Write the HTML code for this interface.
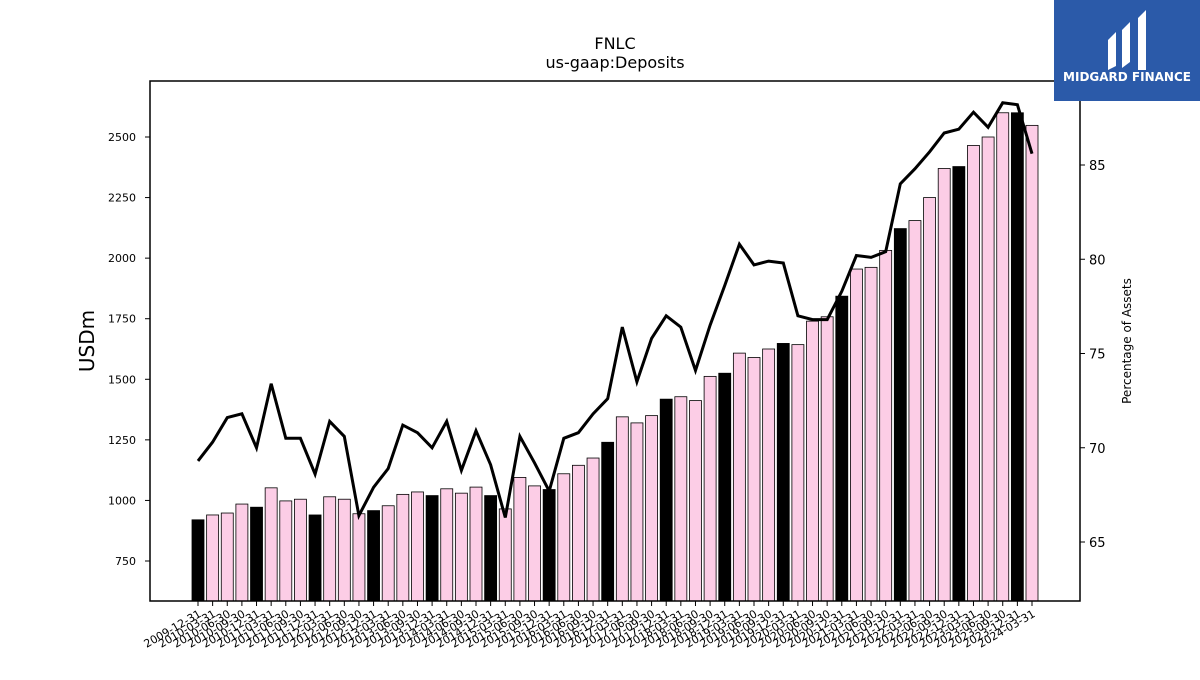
<!DOCTYPE html>
<html><head><meta charset="utf-8"><style>
body{margin:0;background:#fff;}
svg text{font-family:"DejaVu Sans","Liberation Sans",sans-serif;}
</style></head><body>
<svg id="chart" width="1200" height="675" xmlns="http://www.w3.org/2000/svg">
<rect width="1200" height="675" fill="#fff"/>
<text x="615" y="49" font-size="16" text-anchor="middle">FNLC</text>
<text x="615" y="68" font-size="16" text-anchor="middle">us-gaap:Deposits</text>
<g id="bars"></g><g id="xticks"></g><g id="yticks"></g><g id="rticks"></g>
<path id="line" fill="none" stroke="#000" stroke-width="3"/>
<rect x="150" y="81" width="930" height="520" fill="none" stroke="#000" stroke-width="1.5"/>
<text transform="translate(94,341) rotate(-90)" font-size="20" text-anchor="middle">USDm</text>
<text transform="translate(1131,341) rotate(-90)" font-size="12" text-anchor="middle">Percentage of Assets</text>
<g>
<rect x="1054" y="0" width="146" height="101" fill="#2b5aa9"/>
<path d="M1108 40 L1116 32 L1116 66 L1108 70 Z M1122 30 L1130 22 L1130 62 L1122 68 Z M1138 18 L1146 10 L1146 70 L1138 70 Z" fill="#fff"/>
<text x="1127" y="81" font-size="12" font-weight="bold" fill="#fff" text-anchor="middle">MIDGARD FINANCE</text>
</g>
</svg>
<script>
const dates=[];
(function(){const q=["03-31","06-30","09-30","12-31"];dates.push("2009-12-31");for(let y=2010;y<=2023;y++)for(const s of q)dates.push(y+"-"+s);dates.push("2024-03-31");})();
const deposits=[920,940,948,985,972,1052,998,1005,940,1015,1005,945,958,978,1025,1035,1020,1048,1030,1055,1020,965,1095,1060,1045,1110,1145,1175,1240,1345,1320,1350,1418,1428,1412,1512,1525,1608,1590,1625,1648,1643,1740,1758,1843,1955,1962,2032,2122,2155,2250,2370,2378,2465,2500,2600,2600,2548];
const pctAssets=[69.3,70.3,71.6,71.8,70.0,73.4,70.5,70.5,68.6,71.4,70.6,66.4,67.9,68.9,71.2,70.8,70.0,71.4,68.8,70.9,69.1,66.3,70.6,69.2,67.7,70.5,70.8,71.8,72.6,76.4,73.5,75.8,77.0,76.4,74.1,76.5,78.6,80.8,79.7,79.9,79.8,77.0,76.8,76.8,78.3,80.2,80.1,80.4,84.0,84.8,85.7,86.7,86.9,87.8,87.0,88.3,88.2,85.6];
const leftTicks=[750,1000,1250,1500,1750,2000,2250,2500];
const rightTicks=[65,70,75,80,85];
const NS="http://www.w3.org/2000/svg";
const yL=v=>561-(v-750)*(424/1750);
const yR=v=>542-(v-65)*(377/20);
const xB=i=>198+i*(834/57);
function mk(t,a,p){const e=document.createElementNS(NS,t);for(const k in a)e.setAttribute(k,a[k]);if(p)p.appendChild(e);return e;}
const bars=document.getElementById('bars'),xt=document.getElementById('xticks'),yt=document.getElementById('yticks'),rt=document.getElementById('rticks');
deposits.forEach((v,i)=>{
 const q4=dates[i].endsWith("12-31");
 const r=mk('rect',{x:xB(i)-6,y:yL(v),width:12,height:601-yL(v),fill:q4?'#000':'#fccde6',stroke:'#000','stroke-width':0.8},bars);
 
 
 mk('line',{x1:xB(i),x2:xB(i),y1:601,y2:606,stroke:'#000'},xt);
 const t=mk('text',{'font-size':11,'text-anchor':'end',transform:`translate(${xB(i)+4},616) rotate(-30)`},xt);
 t.textContent=dates[i];
 
 
});
leftTicks.forEach(v=>{
 mk('line',{x1:145,x2:150,y1:yL(v),y2:yL(v),stroke:'#000'},yt);
 const t=mk('text',{x:136,y:yL(v)+4,'font-size':11,'text-anchor':'end'},yt);
 t.textContent=v;
 
 
});
rightTicks.forEach(v=>{
 mk('line',{x1:1080,x2:1085,y1:yR(v),y2:yR(v),stroke:'#000'},rt);
 const t=mk('text',{x:1089,y:yR(v)+5,'font-size':13},rt);
 t.textContent=v;
 
 
});
document.getElementById('line').setAttribute('d',pctAssets.map((v,i)=>(i?'L':'M')+xB(i).toFixed(1)+' '+yR(v).toFixed(1)).join(' '));
</script>
</body></html>
